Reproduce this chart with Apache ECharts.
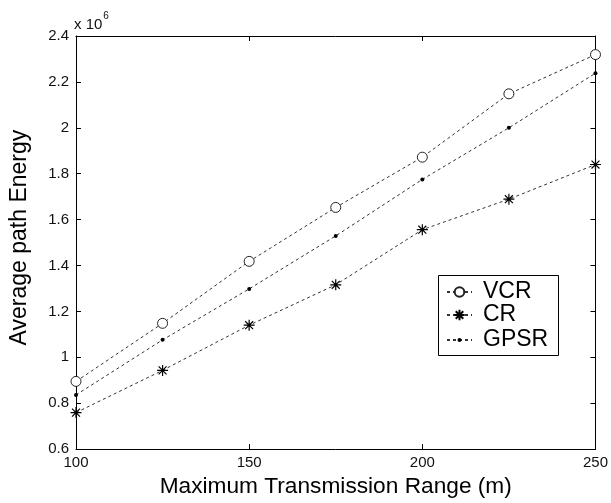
<!DOCTYPE html>
<html><head><meta charset="utf-8">
<script src="https://cdn.jsdelivr.net/npm/echarts@6/dist/echarts.min.js"></script>
<style>html,body{margin:0;padding:0;background:#fff}#c{width:611px;height:503px}</style>
</head><body><div id="c"></div>
<script>
var ranges = [100, 125, 150, 175, 200, 225, 250];
var vcr  = [0.895, 1.148, 1.418, 1.653, 1.872, 2.148, 2.319];
var cr   = [0.759, 0.943, 1.140, 1.316, 1.556, 1.689, 1.840];
var gpsr = [0.836, 1.076, 1.298, 1.529, 1.775, 2.000, 2.238];
var seriesNames = ['VCR', 'CR', 'GPSR'];
var xTicks = [100, 150, 200, 250];
var yMin = 0.6, yMax = 2.4, yStep = 0.2;

var FONT = 'Liberation Sans, Arial, sans-serif';
var asterisk = 'path://M0,-5L0,5M-5,0L5,0M-3.6,-3.6L3.6,3.6M-3.6,3.6L3.6,-3.6';
function pairs(vals){ return ranges.map(function(x,i){ return [x, vals[i]]; }); }
var lineStyle = {type:[3,3], width:1, color:'#333'};
var chart = echarts.init(document.getElementById('c'), null, {renderer:'canvas'});
var axisCommon = {
  axisLine:{show:true, lineStyle:{color:'#000', width:1}},
  axisTick:{show:true, inside:true, length:5, lineStyle:{color:'#000', width:1}},
  splitLine:{show:false}
};
function legendFor(name, top, ih){
  return {
    orient:'vertical', left:446, top:top,
    data:[name], itemWidth:25, itemHeight:ih, itemGap:0, padding:0,
    textStyle:{fontFamily:FONT, fontSize:23, color:'#000', lineHeight:24, padding:[0,0,0,6]}
  };
}
chart.setOption({
  animation:false,
  backgroundColor:'#fff',
  grid:{left:74, right:11, top:36, bottom:52, containLabel:false},
  xAxis:[
    Object.assign({type:'value', position:'bottom', min:xTicks[0], max:xTicks[xTicks.length-1], interval:50,
      name:'Maximum Transmission Range (m)', nameLocation:'middle', nameGap:23,
      nameTextStyle:{fontFamily:FONT, fontSize:22.7, color:'#000'},
      axisLabel:{fontFamily:FONT, fontSize:15, color:'#111', margin:6}}, axisCommon),
    Object.assign({type:'value', position:'top', min:xTicks[0], max:xTicks[xTicks.length-1], interval:50,
      axisLabel:{show:false}}, axisCommon)
  ],
  yAxis:[
    Object.assign({type:'value', position:'left', min:yMin, max:yMax, interval:yStep,
      name:'Average path Energy', nameLocation:'middle', nameGap:45, nameRotate:90,
      nameTextStyle:{fontFamily:FONT, fontSize:23, color:'#000', padding:[0,0,0,10]},
      axisLabel:{fontFamily:FONT, fontSize:15, color:'#111', margin:7,
        formatter:function(v){ return String(+v.toFixed(1)); }}}, axisCommon),
    Object.assign({type:'value', position:'right', min:yMin, max:yMax, interval:yStep,
      axisLabel:{show:false}}, axisCommon)
  ],
  legend:[
    legendFor(seriesNames[0], 280, 12),
    legendFor(seriesNames[1], 303, 13),
    legendFor(seriesNames[2], 328, 5)
  ],
  graphic:[{
    type:'rect', left:438, top:275, z:-1,
    shape:{width:120, height:80},
    style:{fill:'#fff', stroke:'#000', lineWidth:1}
  },{
    type:'text', left:74, top:11,
    style:{text:'{a|x 10}{b|6}', rich:{
      a:{fontFamily:FONT, fontSize:15, fill:'#111', verticalAlign:'bottom', padding:[6,0,0,0]},
      b:{fontFamily:FONT, fontSize:10, fill:'#111', verticalAlign:'top', padding:[0,0,0,1]}
    }}
  }],
  series:[
    {name:'VCR', type:'line', data:pairs(vcr), symbol:'circle', symbolSize:10,
      itemStyle:{color:'#fff', borderColor:'#222', borderWidth:1}, lineStyle:lineStyle, z:3},
    {name:'CR', type:'line', data:pairs(cr), symbol:asterisk, symbolSize:11,
      itemStyle:{color:'#000', borderColor:'#000', borderWidth:1.2}, lineStyle:lineStyle, z:3},
    {name:'GPSR', type:'line', data:pairs(gpsr), symbol:'circle', symbolSize:4,
      itemStyle:{color:'#000'}, lineStyle:lineStyle, z:3}
  ]
});
</script></body></html>
